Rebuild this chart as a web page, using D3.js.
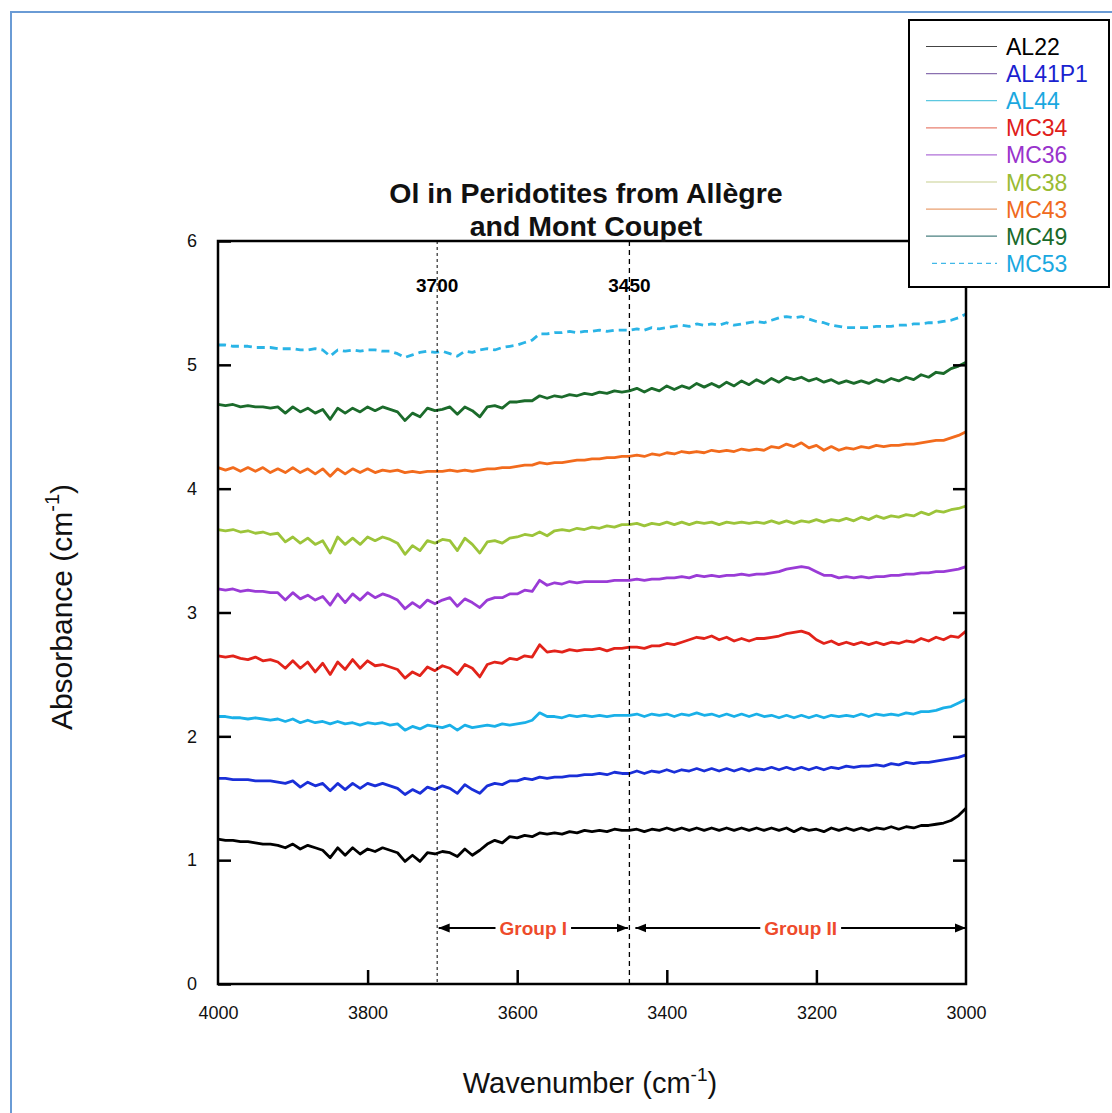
<!DOCTYPE html>
<html><head><meta charset="utf-8">
<script src="https://cdn.jsdelivr.net/npm/d3@7"></script>
<style>
html,body{margin:0;padding:0;background:#fff;}
svg{display:block;font-family:"Liberation Sans",Arial,Helvetica,sans-serif;}
</style></head>
<body>
<svg id="chart" width="1112" height="1113"></svg>
<script>
// ---------- data ----------
const wavenumbers = d3.range(4000, 2999, -10); // 4000 ... 3000, 101 points
const seriesNames = ["AL22","AL41P1","AL44","MC34","MC36","MC38","MC43","MC49","MC53"];
const AL22 = [1.17,1.16,1.16,1.15,1.15,1.14,1.13,1.13,1.12,1.10,
1.13,1.09,1.12,1.10,1.08,1.02,1.10,1.04,1.10,1.05,
1.09,1.07,1.10,1.08,1.06,0.99,1.04,0.99,1.06,1.05,
1.07,1.06,1.03,1.09,1.04,1.08,1.13,1.16,1.14,1.19,
1.18,1.20,1.19,1.22,1.21,1.22,1.21,1.23,1.22,1.24,
1.23,1.24,1.23,1.25,1.24,1.24,1.25,1.23,1.25,1.24,
1.26,1.24,1.26,1.24,1.26,1.24,1.26,1.24,1.26,1.24,
1.26,1.24,1.26,1.24,1.26,1.24,1.26,1.23,1.26,1.24,
1.25,1.23,1.26,1.24,1.26,1.24,1.26,1.24,1.26,1.25,
1.27,1.25,1.27,1.26,1.28,1.28,1.29,1.30,1.32,1.36,
1.42];
const AL41P1 = [1.66,1.66,1.65,1.65,1.65,1.64,1.64,1.64,1.63,1.62,
1.64,1.59,1.63,1.60,1.62,1.56,1.62,1.57,1.62,1.58,
1.62,1.60,1.62,1.60,1.58,1.53,1.57,1.54,1.59,1.57,
1.60,1.58,1.54,1.61,1.57,1.54,1.60,1.62,1.61,1.64,
1.64,1.66,1.65,1.67,1.66,1.67,1.67,1.68,1.68,1.69,
1.69,1.70,1.69,1.71,1.70,1.70,1.72,1.70,1.72,1.71,
1.73,1.71,1.73,1.72,1.74,1.72,1.74,1.72,1.74,1.72,
1.74,1.72,1.74,1.73,1.75,1.73,1.75,1.73,1.75,1.73,
1.75,1.73,1.75,1.74,1.76,1.75,1.76,1.76,1.77,1.76,
1.78,1.77,1.79,1.78,1.79,1.79,1.80,1.81,1.82,1.83,
1.85];
const AL44 = [2.16,2.16,2.15,2.15,2.14,2.15,2.14,2.13,2.14,2.12,
2.14,2.11,2.13,2.11,2.12,2.10,2.12,2.10,2.11,2.09,
2.11,2.10,2.11,2.09,2.10,2.05,2.08,2.06,2.09,2.08,
2.07,2.09,2.05,2.09,2.07,2.08,2.09,2.08,2.10,2.09,
2.10,2.11,2.13,2.19,2.16,2.16,2.15,2.17,2.16,2.17,
2.16,2.17,2.16,2.17,2.17,2.17,2.18,2.16,2.18,2.17,
2.18,2.16,2.18,2.17,2.19,2.17,2.18,2.16,2.18,2.16,
2.18,2.16,2.18,2.16,2.17,2.15,2.17,2.15,2.17,2.15,
2.17,2.15,2.17,2.16,2.17,2.16,2.18,2.16,2.18,2.17,
2.18,2.17,2.19,2.18,2.20,2.20,2.21,2.23,2.24,2.27,
2.30];
const MC34 = [2.65,2.64,2.65,2.63,2.62,2.64,2.61,2.62,2.60,2.55,
2.61,2.55,2.60,2.52,2.59,2.50,2.60,2.54,2.62,2.55,
2.61,2.57,2.58,2.56,2.54,2.47,2.52,2.49,2.56,2.53,
2.57,2.55,2.50,2.58,2.55,2.48,2.58,2.60,2.59,2.63,
2.62,2.65,2.64,2.74,2.68,2.69,2.68,2.70,2.69,2.70,
2.70,2.71,2.69,2.71,2.71,2.72,2.72,2.71,2.73,2.73,
2.75,2.74,2.76,2.78,2.80,2.79,2.81,2.78,2.80,2.77,
2.79,2.77,2.79,2.79,2.80,2.81,2.83,2.84,2.85,2.83,
2.78,2.75,2.77,2.74,2.76,2.74,2.76,2.74,2.76,2.74,
2.76,2.75,2.77,2.76,2.79,2.77,2.80,2.78,2.81,2.80,
2.85];
const MC36 = [3.19,3.18,3.19,3.17,3.18,3.17,3.17,3.16,3.16,3.10,
3.16,3.11,3.14,3.10,3.13,3.06,3.15,3.08,3.15,3.10,
3.16,3.12,3.15,3.13,3.10,3.03,3.08,3.04,3.10,3.07,
3.10,3.12,3.05,3.11,3.08,3.04,3.10,3.12,3.12,3.15,
3.15,3.18,3.17,3.26,3.22,3.24,3.23,3.25,3.24,3.25,
3.25,3.25,3.25,3.26,3.26,3.26,3.27,3.26,3.27,3.27,
3.28,3.28,3.29,3.28,3.30,3.29,3.30,3.29,3.30,3.30,
3.31,3.30,3.31,3.31,3.32,3.33,3.35,3.36,3.37,3.36,
3.33,3.30,3.30,3.28,3.29,3.28,3.29,3.28,3.29,3.29,
3.30,3.30,3.31,3.31,3.32,3.32,3.33,3.33,3.34,3.35,
3.37];
const MC38 = [3.67,3.66,3.67,3.65,3.66,3.64,3.65,3.63,3.64,3.57,
3.61,3.56,3.60,3.55,3.58,3.48,3.61,3.55,3.60,3.55,
3.61,3.58,3.61,3.59,3.56,3.47,3.54,3.50,3.58,3.56,
3.59,3.58,3.50,3.60,3.55,3.48,3.57,3.58,3.56,3.60,
3.61,3.63,3.62,3.65,3.62,3.66,3.67,3.66,3.68,3.67,
3.69,3.68,3.70,3.69,3.71,3.71,3.72,3.70,3.72,3.71,
3.73,3.71,3.73,3.71,3.73,3.72,3.73,3.71,3.73,3.72,
3.73,3.72,3.73,3.72,3.74,3.72,3.74,3.72,3.74,3.73,
3.75,3.73,3.75,3.74,3.76,3.74,3.77,3.75,3.78,3.76,
3.78,3.77,3.79,3.78,3.81,3.79,3.82,3.81,3.83,3.84,
3.86];
const MC43 = [4.17,4.15,4.17,4.14,4.17,4.14,4.17,4.13,4.16,4.13,
4.17,4.13,4.16,4.12,4.16,4.10,4.16,4.12,4.16,4.13,
4.16,4.13,4.15,4.14,4.15,4.13,4.14,4.13,4.14,4.14,
4.14,4.15,4.14,4.15,4.14,4.15,4.16,4.16,4.17,4.17,
4.18,4.19,4.19,4.21,4.20,4.21,4.21,4.22,4.23,4.23,
4.24,4.24,4.25,4.25,4.26,4.26,4.27,4.26,4.28,4.27,
4.29,4.28,4.30,4.29,4.30,4.29,4.31,4.30,4.31,4.30,
4.32,4.31,4.32,4.31,4.34,4.33,4.36,4.34,4.37,4.33,
4.35,4.31,4.34,4.31,4.33,4.32,4.34,4.33,4.35,4.34,
4.35,4.35,4.36,4.36,4.37,4.38,4.39,4.39,4.41,4.43,
4.46];
const MC49 = [4.68,4.67,4.68,4.66,4.67,4.66,4.66,4.65,4.66,4.61,
4.66,4.62,4.65,4.61,4.64,4.56,4.65,4.61,4.65,4.62,
4.66,4.63,4.66,4.64,4.62,4.55,4.61,4.58,4.65,4.63,
4.64,4.66,4.60,4.66,4.63,4.58,4.66,4.67,4.65,4.70,
4.70,4.71,4.71,4.75,4.73,4.75,4.74,4.76,4.75,4.77,
4.76,4.78,4.77,4.79,4.78,4.79,4.81,4.78,4.81,4.79,
4.83,4.80,4.83,4.81,4.85,4.82,4.85,4.82,4.86,4.83,
4.87,4.84,4.88,4.85,4.89,4.86,4.90,4.88,4.90,4.87,
4.89,4.86,4.88,4.85,4.87,4.85,4.87,4.85,4.88,4.86,
4.89,4.87,4.90,4.88,4.92,4.90,4.94,4.93,4.97,4.99,
5.02];
const MC53 = [5.16,5.16,5.15,5.15,5.15,5.14,5.14,5.14,5.13,5.13,
5.13,5.12,5.12,5.13,5.12,5.07,5.12,5.11,5.12,5.11,
5.12,5.12,5.11,5.11,5.09,5.06,5.08,5.10,5.11,5.10,
5.11,5.09,5.07,5.11,5.10,5.12,5.13,5.12,5.14,5.15,
5.16,5.18,5.20,5.25,5.25,5.26,5.26,5.27,5.26,5.27,
5.27,5.28,5.27,5.28,5.28,5.28,5.29,5.28,5.30,5.29,
5.30,5.31,5.32,5.31,5.33,5.32,5.33,5.32,5.34,5.32,
5.33,5.34,5.35,5.34,5.36,5.38,5.39,5.38,5.39,5.37,
5.35,5.34,5.32,5.31,5.30,5.30,5.30,5.30,5.31,5.31,
5.31,5.32,5.32,5.33,5.33,5.34,5.34,5.35,5.36,5.38,
5.41];
const seriesValues = [AL22, AL41P1, AL44, MC34, MC36, MC38, MC43, MC49, MC53];
const xTickValues = [4000, 3800, 3600, 3400, 3200, 3000];
const yTickValues = [0, 1, 2, 3, 4, 5, 6];
const markerPositions = [3707, 3450];
const markerLabels = ["3700", "3450"];
const groupNames = ["Group I", "Group II"];
const groupRanges = [[3705, 3452], [3442, 3000]];
const titleLines = ["Ol in Peridotites from Allègre", "and Mont Coupet"];

// ---------- styles ----------
const lineColors = ["#000000","#1a2fd8","#1ab0e8","#e2231a","#9a3bd6","#9cc43a","#f26b1d","#1b6b2b","#2ab4e6"];
const textColors = ["#000000","#1a22d0","#1aa8e0","#e0201a","#9933cc","#99bb33","#f06a20","#1a6a2a","#1aa8e0"];
const legendLineColors = ["#444444","#8a70b0","#5cc8e0","#e88070","#b070d8","#c8d090","#eaa070","#4a8080","#40b8e8"];

const svg = d3.select("#chart");
const M = {left: 218, right: 966, top: 241, bottom: 984};

const x = d3.scaleLinear().domain([4000, 3000]).range([M.left, M.right]);
const y = d3.scaleLinear().domain([0, 6]).range([M.bottom, M.top]);

// outer blue frame
svg.append("path")
  .attr("d", `M11,1113 L11,12 L1112,12`)
  .attr("fill", "none").attr("stroke", "#6a9bd5").attr("stroke-width", 2);

// series
const line = d3.line().x((d, i) => x(wavenumbers[i])).y(d => y(d));
const g = svg.append("g");
seriesValues.forEach((vals, k) => {
  g.append("path")
    .attr("d", line(vals))
    .attr("fill", "none")
    .attr("stroke", lineColors[k])
    .attr("stroke-width", 2.8)
    .attr("stroke-linejoin", "round")
    .attr("stroke-dasharray", seriesNames[k] === "MC53" ? "8,5" : null);
});

// marker lines
markerPositions.forEach((w, i) => {
  svg.append("line")
    .attr("x1", x(w)).attr("x2", x(w))
    .attr("y1", M.top).attr("y2", M.bottom)
    .attr("stroke", "#000")
    .attr("stroke-width", i === 0 ? 1 : 1.3)
    .attr("stroke-dasharray", i === 0 ? "3,3" : "5,4");
  svg.append("text")
    .attr("x", x(w)).attr("y", 292)
    .attr("text-anchor", "middle")
    .attr("font-size", 19).attr("font-weight", "bold")
    .text(markerLabels[i]);
});

// group arrows
const defs = svg.append("defs");
defs.append("marker").attr("id", "ah").attr("viewBox", "0 0 10 10")
  .attr("refX", 10).attr("refY", 5).attr("markerWidth", 11).attr("markerHeight", 11)
  .attr("markerUnits", "userSpaceOnUse").attr("orient", "auto-start-reverse")
  .append("path").attr("d", "M0,1 L10,5 L0,9 Z").attr("fill", "#000");
const gy = 928;
groupNames.forEach((name, i) => {
  const [a, b] = groupRanges[i];
  const cx = (x(a) + x(b)) / 2;
  const t = svg.append("text")
    .attr("x", cx).attr("y", gy + 7)
    .attr("text-anchor", "middle")
    .attr("font-size", 19).attr("font-weight", "bold")
    .attr("fill", "#ee4b2b")
    .text(name);
  const bb = t.node().getBBox();
  svg.append("line").attr("x1", bb.x - 4).attr("x2", x(a))
    .attr("y1", gy).attr("y2", gy).attr("stroke", "#000").attr("stroke-width", 2)
    .attr("marker-end", "url(#ah)");
  svg.append("line").attr("x1", bb.x + bb.width + 4).attr("x2", x(b))
    .attr("y1", gy).attr("y2", gy).attr("stroke", "#000").attr("stroke-width", 2)
    .attr("marker-end", "url(#ah)");
});

// axes
const axisStyle = sel => {
  sel.select(".domain").remove();
  sel.selectAll("line").attr("stroke", "#000").attr("stroke-width", 2.5);
  sel.selectAll("text").attr("font-size", 18).attr("fill", "#111")
    .attr("font-family", "Liberation Sans, Arial, sans-serif");
};
svg.append("g").attr("transform", `translate(${M.left},0)`)
  .call(d3.axisLeft(y).tickValues(yTickValues).tickSize(-13).tickPadding(21).tickFormat(d3.format("d")))
  .call(axisStyle);
svg.append("g").attr("transform", `translate(${M.right},0)`)
  .call(d3.axisRight(y).tickValues(yTickValues.slice(1, -1)).tickSize(-13).tickFormat(""))
  .call(axisStyle);
svg.append("g").attr("transform", `translate(0,${M.bottom})`)
  .call(d3.axisBottom(x).tickValues(xTickValues).tickSize(-14).tickPadding(22).tickFormat(d3.format("d")))
  .call(axisStyle)
  .call(s => s.selectAll(".tick").filter(d => d === 4000 || d === 3000).select("line").remove());

// frame
svg.append("rect")
  .attr("x", M.left).attr("y", M.top)
  .attr("width", M.right - M.left).attr("height", M.bottom - M.top)
  .attr("fill", "none").attr("stroke", "#000").attr("stroke-width", 2.5);

// title
titleLines.forEach((s, i) => {
  svg.append("text").attr("x", 586).attr("y", 203 + i * 33)
    .attr("text-anchor", "middle").attr("font-size", 28.5).attr("font-weight", "bold")
    .attr("fill", "#111").text(s);
});

// axis titles
const xt = svg.append("text").attr("x", 590).attr("y", 1093)
  .attr("text-anchor", "middle").attr("font-size", 29).attr("fill", "#111");
xt.append("tspan").text("Wavenumber (cm");
xt.append("tspan").attr("font-size", 19).attr("dy", -12).text("-1");
xt.append("tspan").attr("dy", 12).text(")");

const yt = svg.append("text")
  .attr("transform", "translate(72,607) rotate(-90)")
  .attr("text-anchor", "middle").attr("font-size", 30).attr("fill", "#111");
yt.append("tspan").text("Absorbance (cm");
yt.append("tspan").attr("font-size", 20).attr("dy", -13).text("-1");
yt.append("tspan").attr("dy", 13).text(")");

// legend
const lg = svg.append("g");
lg.append("rect").attr("x", 909).attr("y", 20).attr("width", 200).attr("height", 267)
  .attr("fill", "#fff").attr("stroke", "#000").attr("stroke-width", 2);
seriesNames.forEach((n, i) => {
  const cy = 46.5 + i * 27.1;
  const dashed = n === "MC53";
  lg.append("line").attr("x1", dashed ? 932 : 926).attr("x2", 997)
    .attr("y1", cy).attr("y2", cy)
    .attr("stroke", legendLineColors[i]).attr("stroke-width", 1.2)
    .attr("stroke-dasharray", dashed ? "5,4" : null);
  lg.append("text").attr("x", 1006).attr("y", cy + 8.5)
    .attr("font-size", 23).attr("fill", textColors[i]).text(n);
});
</script>
</body></html>
